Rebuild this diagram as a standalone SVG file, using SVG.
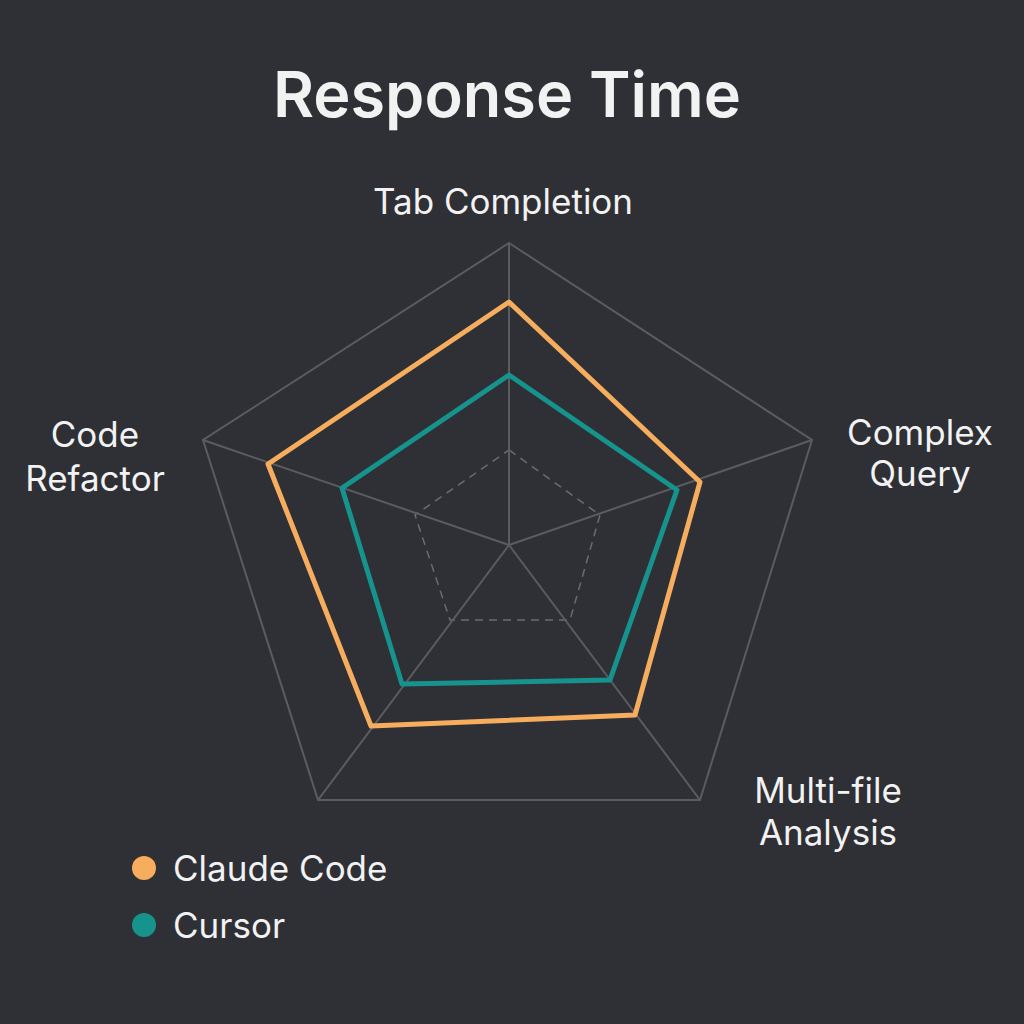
<svg xmlns="http://www.w3.org/2000/svg" width="1024" height="1024" viewBox="0 0 1024 1024">
<style>
.t{font-family:Inter,"Liberation Sans",sans-serif;fill:#f2f2f2}
.lbl{font-size:35px}
.grid{fill:none;stroke:#5a5c60;stroke-width:2}
.dash{fill:none;stroke:#6a6c70;stroke-width:1.5;stroke-dasharray:8 6}
</style>
<rect width="1024" height="1024" fill="#2e3035"/>
<text class="t" x="507" y="117" text-anchor="middle" font-size="63" font-weight="600">Response Time</text>
<g id="grid">
<polygon points="509,243 812,440 700,800 318,800 203,440" fill="#34363b" class="grid"/>
<polygon class="dash" points="509,450 600,515 570,620 450,620 415,515"/>
<g stroke="#5a5c60" stroke-width="2">
<line x1="509" y1="545" x2="509" y2="243"/>
<line x1="509" y1="545" x2="812" y2="440"/>
<line x1="509" y1="545" x2="700" y2="800"/>
<line x1="509" y1="545" x2="318" y2="800"/>
<line x1="509" y1="545" x2="203" y2="440"/>
</g>
</g>
<g id="claude"><polygon points="509,302 700,482 635,715 371,726 268,464" fill="none" stroke="#f6ad5e" stroke-width="5" stroke-linejoin="round"/></g>
<g id="cursor"><polygon points="509,375 677,490 610,680 402,684 342,488" fill="none" stroke="#16938c" stroke-width="5" stroke-linejoin="round"/></g>
<g id="labels">
<text class="t lbl" x="503" y="214" text-anchor="middle">Tab Completion</text>
<text class="t lbl" x="920" y="445" text-anchor="middle">Complex</text>
<text class="t lbl" x="920" y="486" text-anchor="middle">Query</text>
<text class="t lbl" x="828" y="803" text-anchor="middle">Multi-file</text>
<text class="t lbl" x="828" y="845" text-anchor="middle">Analysis</text>
<text class="t lbl" x="95" y="447" text-anchor="middle">Code</text>
<text class="t lbl" x="95" y="491" text-anchor="middle">Refactor</text>
</g>
<g id="legend">
<circle cx="144" cy="868" r="12" fill="#f6ad5e"/>
<text class="t lbl" x="173" y="881">Claude Code</text>
<circle cx="144" cy="925" r="12" fill="#16938c"/>
<text class="t lbl" x="173" y="938">Cursor</text>
</g>
</svg>
